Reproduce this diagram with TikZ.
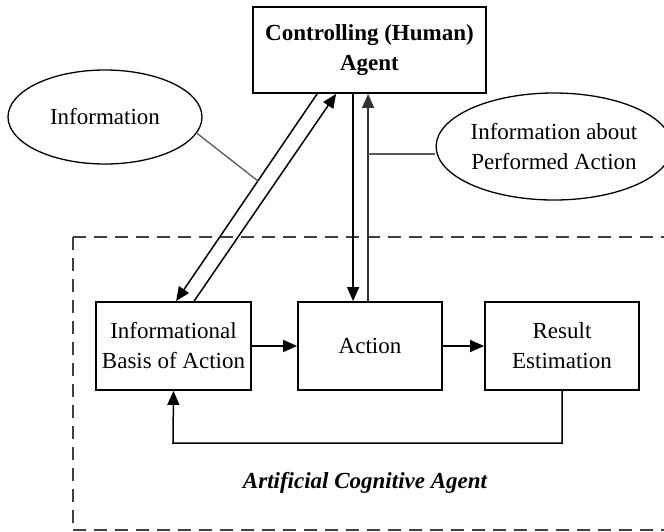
\documentclass[tikz,border=0pt]{standalone}
\usepackage{fontspec}
\setmainfont{Liberation Serif}
\usetikzlibrary{arrows.meta,shapes.geometric,calc}
\begin{document}
\begin{tikzpicture}[x=1pt,y=-1pt,
  every node/.style={font=\fontsize{23}{30}\selectfont, align=center, inner sep=0pt},
  boxnode/.style={draw, line width=1.8pt, rectangle},
  ellnode/.style={draw, line width=1.3pt, ellipse},
  arr/.style={line width=1.5pt, -{Triangle[length=14pt,width=12pt]}},
  thinline/.style={line width=1.3pt, black!65},
  dashbox/.style={line width=2.6pt, black!75, dash pattern=on 13pt off 8pt}
]
\useasboundingbox (0,0) rectangle (664,531);
% dashed container
\draw[dashbox] (73,237) -- (680,237);
\draw[dashbox] (73,237) -- (73,530);
\draw[dashbox] (73,530) -- (680,530);
% nodes
\node[boxnode, minimum width=233pt, minimum height=86pt] (ctrl) at (369.5,50) {\bfseries Controlling (Human)\\\bfseries Agent};
\node[boxnode, minimum width=155pt, minimum height=88pt] (ib) at (173.5,346) {Informational\\Basis of Action};
\node[boxnode, minimum width=144pt, minimum height=88pt] (act) at (370,346) {Action};
\node[boxnode, minimum width=154pt, minimum height=88pt] (res) at (562,346) {Result\\Estimation};
\node[ellnode, minimum width=194pt, minimum height=94pt] (info) at (105,117) {Information};
\node[ellnode, minimum width=218pt, minimum height=107pt] (pinfo) at (554,146.5) {Information about\\Performed Action};
\node (lbl) at (365,483) {\bfseries\itshape Artificial Cognitive Agent};
% coordinates on box borders
\coordinate (c1) at ($(ctrl.south west)+(65,0)$);
\coordinate (c2) at ($(ctrl.south west)+(84,0)$);
\coordinate (c3) at ($(ctrl.south west)+(101,0)$);
\coordinate (c4) at ($(ctrl.south west)+(116,0)$);
\coordinate (i1) at ($(ib.north west)+(81,0)$);
\coordinate (i2) at ($(ib.north west)+(99,0)$);
\coordinate (a1) at ($(act.north west)+(56,0)$);
\coordinate (a2) at ($(act.north west)+(71,0)$);
\coordinate (fb) at (562,443);
\coordinate (fb2) at (173,443);
\coordinate (j1) at ($(c1)!0.42!(i1)$);
\coordinate (j2) at ($(c4)!0.29!(a2)$);
% connectors
\draw[arr] (c1) -- (i1);
\draw[arr] (i2) -- (c2);
\draw[arr] (c3) -- (a1);
\draw[arr, black!80] (a2) -- (c4);
\draw[arr] (ib.east) -- (act.west);
\draw[arr] (act.east) -- (res.west);
\draw[arr] (res.south) -- (fb) -- (fb2) -- (ib.south);
\draw[thinline] (info.-10) -- (j1);
\draw[thinline] (j2) -- (j2 -| pinfo.west);
\end{tikzpicture}
\end{document}
